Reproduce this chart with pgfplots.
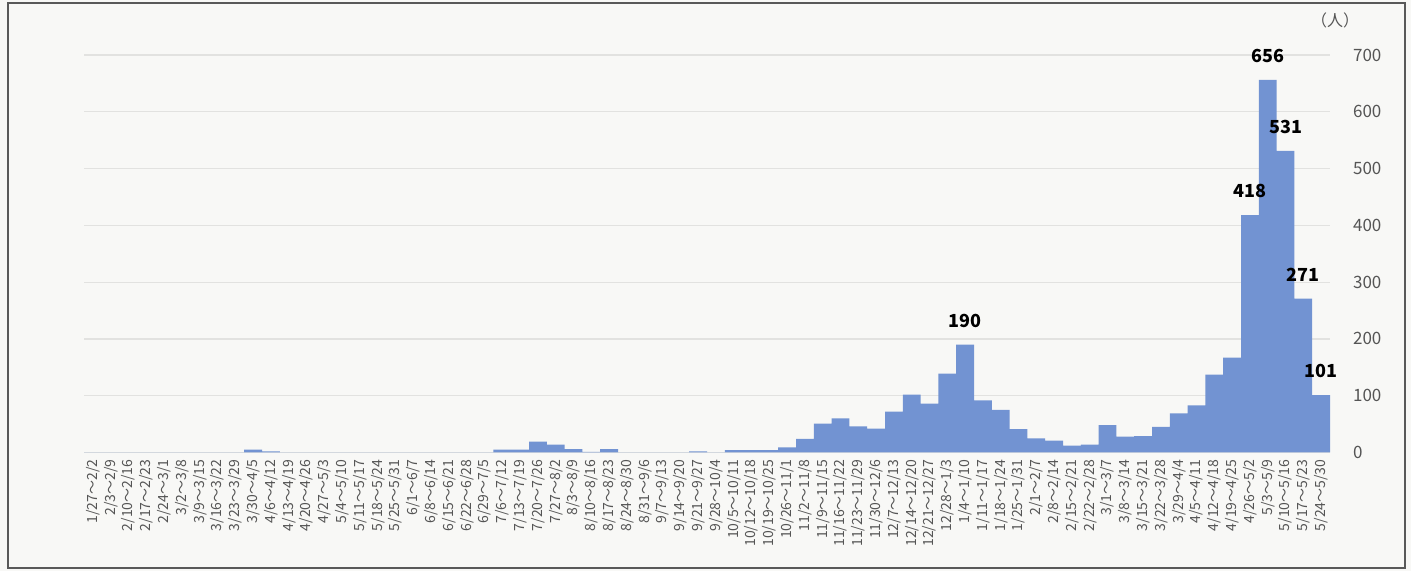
\documentclass[border=0pt]{standalone}
\usepackage{fontspec}
\setmainfont{Noto Sans CJK JP}
\usepackage{pgfplots}
\usepackage{pgfplotstable}
\pgfplotsset{compat=1.18}

\definecolor{barblue}{RGB}{114,147,210}
\definecolor{bgpaper}{RGB}{248,248,246}
\definecolor{gridgray}{RGB}{226,226,224}
\definecolor{ticktext}{RGB}{85,85,85}

% weekly counts, 1/27-2/2 (2020) to 5/24-5/30 (2021)
\pgfplotstableread{
wk cases
0 0
1 0
2 0
3 0
4 0
5 0
6 0
7 0
8 0
9 5
10 2
11 0
12 0
13 0
14 0
15 0
16 0
17 0
18 0
19 0
20 0
21 0
22 0
23 5
24 5
25 19
26 14
27 6
28 1
29 6
30 0
31 0
32 0
33 0
34 2
35 0
36 4
37 4
38 4
39 9
40 24
41 51
42 60
43 46
44 42
45 72
46 102
47 86
48 139
49 190
50 92
51 75
52 41
53 25
54 21
55 12
56 14
57 48
58 28
59 29
60 45
61 69
62 83
63 137
64 167
65 418
66 656
67 531
68 271
69 101
}\weekly

\begin{document}
\begin{tikzpicture}
\path[use as bounding box, fill=bgpaper] (0,0) rectangle (705.5pt,285.5pt);
\draw[line width=0.9pt, draw=black!65] (4pt,1.5pt) rectangle (702.5pt,284pt);
\begin{axis}[
    at={(42pt,59.25pt)}, anchor=south west,
    scale only axis, width=623pt, height=198.75pt,
    xmin=-0.5, xmax=69.5, ymin=0, ymax=700,
    enlargelimits=false,
    axis line style={draw=none},
    major tick length=0pt,
    ymajorgrids, grid style={gridgray, line width=0.6pt},
    ytick={0,100,...,700},
    yticklabel pos=right,
    yticklabel style={anchor=west, xshift=8pt, font=\fontsize{8.5}{10}\selectfont, text=ticktext},
    /pgf/number format/assume math mode=true,
    xtick={0,...,69},
    xticklabels={1/27～2/2, 2/3～2/9, 2/10～2/16, 2/17～2/23, 2/24～3/1, 3/2～3/8, 3/9～3/15, 3/16～3/22, 3/23～3/29, 3/30～4/5, 4/6～4/12, 4/13～4/19, 4/20～4/26, 4/27～5/3, 5/4～5/10, 5/11～5/17, 5/18～5/24, 5/25～5/31, 6/1～6/7, 6/8～6/14, 6/15～6/21, 6/22～6/28, 6/29～7/5, 7/6～7/12, 7/13～7/19, 7/20～7/26, 7/27～8/2, 8/3～8/9, 8/10～8/16, 8/17～8/23, 8/24～8/30, 8/31～9/6, 9/7～9/13, 9/14～9/20, 9/21～9/27, 9/28～10/4, 10/5～10/11, 10/12～10/18, 10/19～10/25, 10/26～11/1, 11/2～11/8, 11/9～11/15, 11/16～11/22, 11/23～11/29, 11/30～12/6, 12/7～12/13, 12/14～12/20, 12/21～12/27, 12/28～1/3, 1/4～1/10, 1/11～1/17, 1/18～1/24, 1/25～1/31, 2/1～2/7, 2/8～2/14, 2/15～2/21, 2/22～2/28, 3/1～3/7, 3/8～3/14, 3/15～3/21, 3/22～3/28, 3/29～4/4, 4/5～4/11, 4/12～4/18, 4/19～4/25, 4/26～5/2, 5/3～5/9, 5/10～5/16, 5/17～5/23, 5/24～5/30},
    xticklabel style={rotate=90, anchor=east, font=\fontsize{7}{8}\selectfont, text=ticktext},
]
\addplot[ybar, bar width=1, bar shift=0pt, fill=barblue, draw=none] table[x=wk, y=cases] {\weekly};
\addplot[draw=none, nodes near coords,
    nodes near coords style={anchor=south, yshift=5pt, font=\fontsize{9}{10}\selectfont\bfseries, text=black}]
    coordinates {(49,190) (65,418) (66,656) (67,531) (68,271) (69,101)};
\end{axis}
\node[font=\fontsize{8}{9}\selectfont, text=ticktext] at (667.5pt,275.5pt) {（人）};
\end{tikzpicture}
\end{document}
